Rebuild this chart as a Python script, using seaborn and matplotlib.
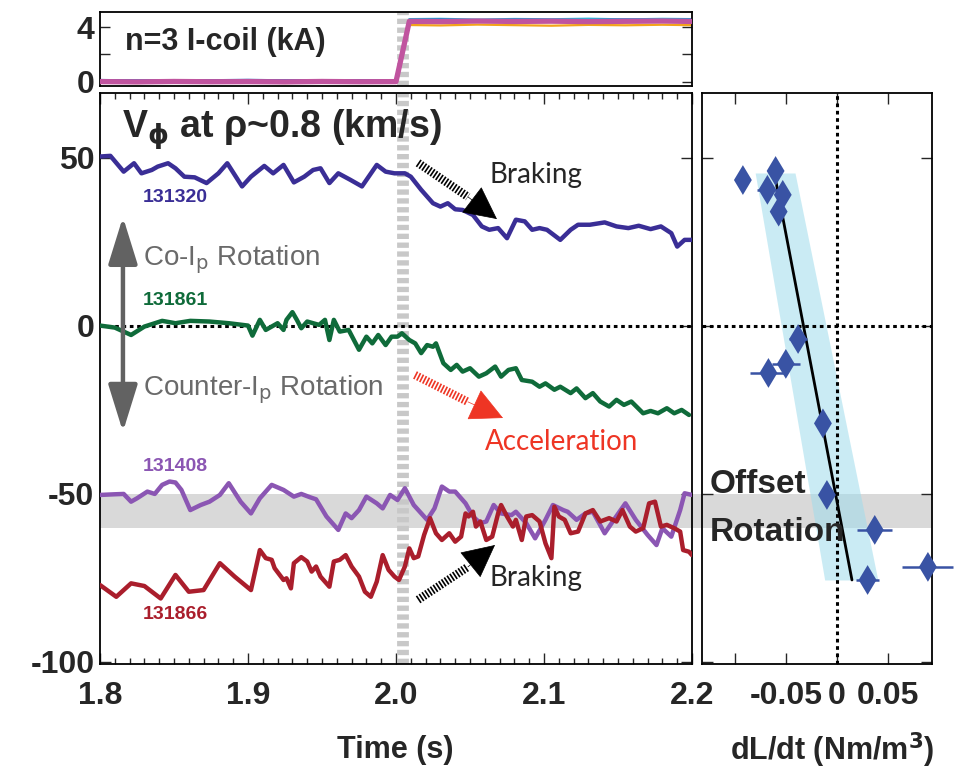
import numpy as np
import pandas as pd
import matplotlib
matplotlib.use("Agg")
import matplotlib.pyplot as plt
from matplotlib.ticker import MultipleLocator
import seaborn as sns

sns.set_theme(style="white")
plt.rcParams['font.family'] = ['Liberation Sans', 'DejaVu Sans']
plt.rcParams['mathtext.fontset'] = 'dejavusans'

# ---------------- data ----------------
t_131320 = [1.800,1.807,1.816,1.823,1.828,1.835,1.839,1.846,1.851,1.857,
            1.864,1.872,1.880,1.886,1.896,1.902,1.911,1.917,1.924,1.931,
            1.938,1.944,1.949,1.955,1.961,1.969,1.977,1.987,1.993,1.999,
            2.006,2.010,2.017,2.025,2.030,2.035,2.040,2.045,2.052,2.058,
            2.063,2.069,2.075,2.081,2.087,2.092,2.097,2.102,2.111,2.118,
            2.123,2.131,2.141,2.149,2.157,2.164,2.172,2.179,2.186,2.190,
            2.195,2.200]
v_131320 = [50.4,50.6,45.9,48.4,45.4,46.4,47.4,48.4,46.9,44.4,
            44.2,42.5,45.4,48.4,41.5,44.4,47.6,45.4,47.9,42.7,
            44.4,46.4,46.9,42.5,45.4,43.5,41.5,47.9,45.9,45.4,
            45.4,44.4,40.5,36.5,35.5,36.5,34.7,34.5,33.0,29.6,
            28.6,29.1,26.1,31.6,31.1,28.6,29.1,28.6,25.6,28.6,
            30.1,30.1,30.8,29.6,29.1,29.8,28.8,29.6,27.6,23.6,
            25.6,25.6]

t_131861 = [1.800,1.810,1.821,1.830,1.842,1.851,1.861,1.874,1.887,1.900,
            1.903,1.908,1.912,1.916,1.920,1.924,1.926,1.930,1.933,1.936,
            1.940,1.944,1.948,1.952,1.955,1.958,1.962,1.968,1.975,1.980,
            1.984,1.988,1.993,1.997,2.001,2.004,2.009,2.013,2.017,2.021,
            2.025,2.027,2.032,2.037,2.041,2.045,2.050,2.056,2.061,2.067,
            2.071,2.076,2.081,2.085,2.092,2.097,2.101,2.107,2.111,2.118,
            2.122,2.128,2.133,2.138,2.144,2.149,2.154,2.159,2.167,2.172,
            2.177,2.183,2.188,2.193,2.198]
v_131861 = [0.1,-0.5,-2.7,-0.2,1.5,0.8,1.5,1.3,0.8,0.1,
            -2.9,1.8,-1.2,-0.2,0.8,-1.2,1.8,4.1,1.8,-0.7,
            1.3,0.8,0.3,1.8,-4.2,1.8,-1.7,-1.2,-7.1,-3.2,
            -5.2,-2.7,-5.7,-3.2,-3.2,-2.2,-4.2,-5.2,-8.1,-5.7,
            -6.2,-5.2,-11.1,-13.1,-11.6,-13.6,-12.6,-15.1,-14.1,-12.1,
            -15.1,-13.1,-12.6,-16.1,-16.6,-18.1,-17.1,-19.0,-18.1,-20.0,
            -18.6,-21.5,-20.0,-22.5,-24.0,-22.0,-23.5,-22.5,-26.0,-25.3,
            -26.0,-24.5,-26.0,-25.0,-26.5]

t_131408 = [1.800,1.810,1.816,1.821,1.825,1.832,1.837,1.842,1.847,1.851,
            1.855,1.861,1.868,1.874,1.881,1.887,1.895,1.902,1.908,1.916,
            1.924,1.931,1.936,1.942,1.946,1.953,1.961,1.966,1.970,1.975,
            1.980,1.987,1.991,1.996,2.001,2.006,2.012,2.021,2.026,2.031,
            2.036,2.040,2.047,2.052,2.057,2.061,2.066,2.071,2.078,2.081,
            2.088,2.094,2.101,2.106,2.113,2.116,2.122,2.128,2.133,2.141,
            2.148,2.155,2.162,2.170,2.176,2.180,2.186,2.192,2.195,2.200]
v_131408 = [-50.3,-50.1,-50.0,-52.3,-51.3,-49.3,-50.0,-47.3,-46.3,-46.6,
            -48.8,-54.8,-53.3,-52.3,-50.3,-46.8,-52.3,-55.8,-51.3,-47.3,
            -48.8,-50.8,-50.0,-51.0,-51.6,-56.7,-60.7,-55.8,-57.2,-54.8,
            -50.8,-52.8,-54.3,-50.3,-51.8,-48.3,-53.3,-57.7,-54.3,-47.8,
            -49.3,-49.3,-52.8,-56.7,-58.7,-58.2,-53.3,-55.8,-56.3,-55.3,
            -58.7,-63.2,-57.7,-53.3,-54.8,-55.3,-57.7,-55.8,-55.3,-61.7,
            -57.2,-52.8,-57.7,-62.2,-65.2,-60.2,-62.7,-54.8,-49.8,-50.3]

t_131866 = [1.800,1.811,1.821,1.830,1.841,1.851,1.860,1.870,1.881,1.891,
            1.902,1.908,1.912,1.916,1.918,1.924,1.926,1.929,1.931,1.936,
            1.940,1.943,1.946,1.949,1.955,1.958,1.962,1.966,1.970,1.975,
            1.979,1.983,1.987,1.991,1.995,1.999,2.002,2.006,2.009,2.012,
            2.015,2.019,2.023,2.027,2.031,2.036,2.040,2.044,2.047,2.049,
            2.052,2.054,2.057,2.061,2.065,2.069,2.071,2.075,2.079,2.081,
            2.085,2.088,2.092,2.097,2.101,2.105,2.107,2.110,2.114,2.118,
            2.123,2.128,2.133,2.138,2.144,2.149,2.153,2.158,2.162,2.167,
            2.171,2.175,2.179,2.183,2.188,2.192,2.194,2.198,2.200]
v_131866 = [-77.1,-80.6,-76.6,-77.4,-81.1,-74.1,-79.1,-78.6,-70.6,-74.6,
            -78.6,-66.7,-69.1,-69.6,-72.1,-75.6,-75.1,-78.1,-70.6,-68.8,
            -70.1,-73.1,-71.6,-74.6,-77.6,-70.1,-69.6,-68.2,-71.6,-74.6,
            -79.1,-80.6,-76.1,-68.2,-72.6,-74.6,-75.6,-71.6,-66.2,-69.1,
            -68.6,-62.2,-57.2,-61.7,-63.7,-61.7,-64.2,-62.7,-55.8,-56.7,
            -55.3,-59.7,-58.2,-63.7,-62.7,-55.8,-53.3,-56.7,-59.7,-57.7,
            -63.7,-56.7,-56.3,-58.2,-64.7,-69.1,-53.8,-56.7,-57.7,-61.7,
            -61.2,-55.8,-54.8,-58.2,-57.2,-58.2,-54.8,-59.7,-61.2,-60.2,
            -52.8,-52.3,-59.7,-59.2,-60.2,-61.2,-66.7,-67.2,-68.2]

# I-coil current (kA)
coil_t = [1.800,1.825,1.850,1.875,1.900,1.925,1.950,1.975,2.000,2.009,
          2.030,2.055,2.080,2.105,2.130,2.155,2.180,2.200]
coil_magenta = [0.02,0.00,0.03,0.01,0.02,0.00,0.03,0.01,0.02,4.42,
                4.40,4.44,4.41,4.43,4.40,4.42,4.44,4.41]
coil_orange = [-0.05,-0.08,-0.04,-0.07,-0.05,-0.08,-0.05,-0.06,-0.05,4.15,
               4.12,4.18,4.14,4.10,4.16,4.13,4.17,4.14]
coil_cyan = [0.10,0.12,0.08,0.11,0.09,0.12,0.10,0.11,0.09,4.58,
             4.60,4.55,4.59,4.57,4.61,4.56,4.60,4.58]
coil_blue = [0.14,0.10,0.13,0.12,0.15,0.11,0.13,0.12,0.12,4.52,
             4.55,4.50,4.54,4.53,4.51,4.55,4.52,4.54]

# torque vs offset rotation
dldt = [-0.092,-0.060,-0.068,-0.053,-0.057,-0.038,-0.050,-0.067,-0.0137,-0.0098,0.037,0.089,0.030]
vrot = [43.4,46.1,40.5,39.0,34.0,-3.9,-11.3,-14.0,-29.0,-50.3,-60.7,-71.7,-75.6]
dldt_err = [0.0,0.0,0.010,0.0,0.0,0.009,0.014,0.018,0.0,0.0,0.017,0.025,0.011]
fit_v = [43.5,-75.6]
fit_x = [-0.060,0.0147]
band_v = [45.5,-75.6]
band_lo = [-0.080,-0.012]
band_hi = [-0.041,0.040]

# colours
C_BLUE = '#3a2e96'
C_GREEN = '#0f6b3a'
C_PURPLE = '#8b56b3'
C_RED = '#aa1e2c'
C_DIAM = '#3953a4'

W, H = 957, 776
fig = plt.figure(figsize=(W/100, H/100), dpi=100)
ax_top = fig.add_axes([100/W, 1-86/H, 592/W, 74/H])
ax = fig.add_axes([100/W, 1-664/H, 592/W, 571/H])
ax_r = fig.add_axes([702/W, 1-664/H, 230/W, 571/H])

BOLD = dict(fontweight='bold')
TICK_FS = 23

for a in (ax_top, ax, ax_r):
    for s in a.spines.values():
        s.set_color('black'); s.set_linewidth(1.3)
    a.set_facecolor('white')

# ---------- top panel ----------
ax_top.axvline(2.005, color='#c8c8c8', lw=8.5, dashes=(0.45, 0.3), zorder=1)
sns.lineplot(x=coil_t, y=coil_orange, ax=ax_top, color='#f2a31b', lw=1.6, zorder=2)
sns.lineplot(x=coil_t, y=coil_cyan, ax=ax_top, color='#2bb5d8', lw=1.6, zorder=2)
sns.lineplot(x=coil_t, y=coil_blue, ax=ax_top, color='#3060c0', lw=1.6, zorder=2)
sns.lineplot(x=coil_t, y=coil_magenta, ax=ax_top, color='#c0549f', lw=3.8, zorder=3)
ax_top.set_xlim(1.8, 2.2)
ax_top.set_ylim(-0.3, 5.1)
ax_top.set_yticks([0, 2, 4])
ax_top.set_yticklabels(['0', '', '4'], fontsize=TICK_FS, **BOLD)
ax_top.tick_params(axis='y', direction='in', left=True, right=True, length=7, width=1, pad=4)
ax_top.tick_params(axis='x', which='both', bottom=False, top=False, labelbottom=False)
ax_top.set_xlabel(''); ax_top.set_ylabel('')
ax_top.text(1.817, 2.9, 'n=3 I-coil (kA)', fontsize=22, ha='left', va='center', **BOLD)

# ---------- main panel ----------
ax.axhspan(-60, -50, xmin=0, xmax=1.02, color='#d9d9d9', zorder=0.5, clip_on=False, lw=0)
ax.axvline(2.005, color='#c8c8c8', lw=8.5, dashes=(0.45, 0.3), zorder=1)
ax.axhline(0, color='black', lw=2.2, dashes=(1.2, 1.2), zorder=1.5)
for t, v, c in ((t_131320, v_131320, C_BLUE), (t_131861, v_131861, C_GREEN),
                (t_131408, v_131408, C_PURPLE), (t_131866, v_131866, C_RED)):
    sns.lineplot(x=t, y=v, ax=ax, color=c, lw=3.2, zorder=3)

ax.set_xlim(1.8, 2.2)
ax.set_ylim(-100.6, 69.3)
ax.set_xticks([1.8, 1.9, 2.0, 2.1, 2.2])
ax.set_xticklabels(['1.8', '1.9', '2.0', '2.1', '2.2'], fontsize=TICK_FS, **BOLD)
ax.xaxis.set_minor_locator(MultipleLocator(0.01))
ax.set_yticks([-100, -50, 0, 50])
ax.set_yticklabels(['-100', '-50', '0', '50'], fontsize=TICK_FS, **BOLD)
ax.tick_params(which='both', direction='in', top=True, right=True, bottom=True, left=True, width=1)
ax.tick_params(which='major', length=8)
ax.tick_params(which='minor', length=4)
ax.tick_params(axis='x', pad=12)
ax.tick_params(axis='y', pad=4)
ax.set_xlabel(''); ax.set_ylabel('')

ax.text(1.815, 58.3, r'V$_{\mathbf{\phi}}$ at ρ~0.8 (km/s)', fontsize=27, ha='left', va='center', **BOLD)

NUMFS = 14
for lab, yv, c in (('131320', 38.1, C_BLUE), ('131861', 7.7, C_GREEN),
                   ('131408', -41.7, C_PURPLE), ('131866', -86.0, C_RED)):
    ax.text(1.829, yv, lab, color=c, fontsize=NUMFS, ha='left', va='center', **BOLD)

GRAY = '#6a6a6a'
ax.annotate('', xy=(1.8155, 32.4), xytext=(1.8155, -31.5),
            arrowprops=dict(arrowstyle='<|-|>,head_length=1.45,head_width=0.45', color='#626262',
                            lw=3.2, shrinkA=0, shrinkB=0, mutation_scale=20), zorder=4)
ax.text(1.829, 19.6, r'Co-I$_\mathrm{p}$ Rotation', color=GRAY, fontsize=20, ha='left', va='center')
ax.text(1.829, -19.0, r'Counter-I$_\mathrm{p}$ Rotation', color=GRAY, fontsize=20, ha='left', va='center')

def hatched_arrow(p0, p1, tip, color):
    ax.plot([p0[0], p1[0]], [p0[1], p1[1]], color=color, lw=6, dashes=(0.2, 0.2),
            dash_capstyle='butt', solid_capstyle='butt', zorder=5)
    ax.annotate('', xy=tip, xytext=p1,
                arrowprops=dict(arrowstyle='-|>,head_length=1.1,head_width=0.55', color=color,
                                lw=0.5, shrinkA=0, shrinkB=0, mutation_scale=20), zorder=6)

hatched_arrow((2.0149, 48.5), (2.0486, 38.4), (2.0682, 31.8), 'black')
hatched_arrow((2.0149, -81.5), (2.0486, -71.7), (2.0669, -65.2), 'black')
hatched_arrow((2.0128, -14.6), (2.0486, -22.6), (2.0723, -27.4), '#ee3524')

ax.text(2.0635, 44.9, 'Braking', fontsize=20, ha='left', va='center', family=['Lato', 'DejaVu Sans'], zorder=6)
ax.text(2.0635, -75.0, 'Braking', fontsize=20, ha='left', va='center', family=['Lato', 'DejaVu Sans'], zorder=6)
ax.text(2.060, -34.5, 'Acceleration', fontsize=20, color='#ee3524', ha='left', va='center',
        family=['Lato', 'DejaVu Sans'], zorder=6)

# ---------- right panel ----------
ax_r.axhspan(-60, -50, color='#d9d9d9', zorder=0.5, lw=0)
ax_r.fill_betweenx(band_v, band_lo, band_hi, color='#9fdcec', alpha=0.55, lw=0, zorder=1)
ax_r.axvline(0, color='black', lw=2.2, dashes=(1.2, 1.2), zorder=1.5)
ax_r.axhline(0, color='black', lw=2.2, dashes=(1.2, 1.2), zorder=1.5)
sns.lineplot(x=fit_x, y=fit_v, ax=ax_r, color='black', lw=2, sort=False, zorder=2)
ax_r.errorbar(dldt, vrot, xerr=dldt_err, fmt='none', ecolor=C_DIAM, elinewidth=1.8,
              capsize=0, zorder=4, clip_on=False)
sns.scatterplot(x=dldt, y=vrot, ax=ax_r, marker='d', s=230, color=C_DIAM, edgecolor='none',
                zorder=5, clip_on=False)
ax_r.set_xlim(-0.132, 0.093)
ax_r.set_ylim(-100.6, 69.3)
ax_r.set_xticks([-0.1, -0.05, 0, 0.05])
ax_r.set_xticklabels(['', '-0.05', '0', '0.05'], fontsize=TICK_FS, **BOLD)
ax_r.set_yticks([-100, -50, 0, 50])
ax_r.set_yticklabels([])
ax_r.tick_params(which='both', direction='in', top=True, right=True, bottom=True, left=True,
                 length=8, width=1)
ax_r.tick_params(axis='x', pad=12)
ax_r.set_xlabel(''); ax_r.set_ylabel('')
ax_r.text(-0.1245, -47.3, 'Offset', fontsize=24, ha='left', va='center', zorder=7, **BOLD)
ax_r.text(-0.1245, -61.6, 'Rotation', fontsize=24, ha='left', va='center', zorder=7, **BOLD)

fig.text(395/W, 1-750/H, 'Time (s)', fontsize=22, ha='center', va='center', **BOLD)
fig.text(832/W, 1-750/H, r'dL/dt (Nm/m$^\mathbf{3}$)', fontsize=22, ha='center', va='center', **BOLD)

fig.savefig('out.png', dpi=100)
